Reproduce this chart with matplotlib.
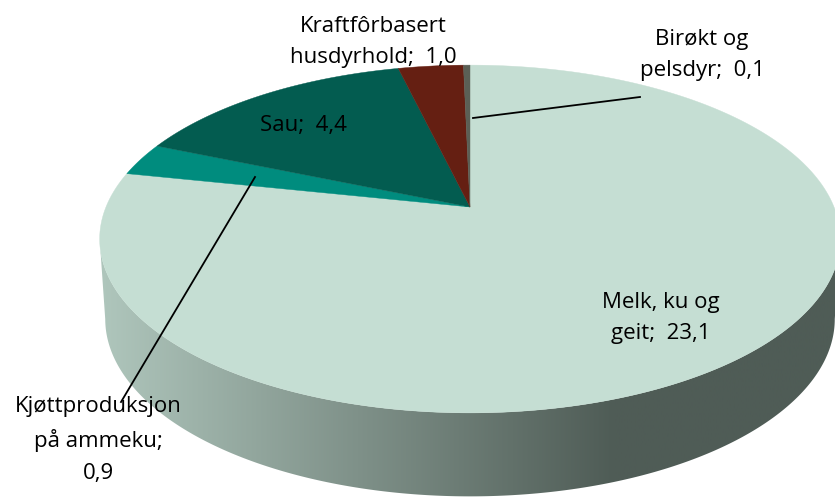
import numpy as np
import matplotlib
matplotlib.use("Agg")
import matplotlib.pyplot as plt
from matplotlib.patches import Polygon
from matplotlib.colors import LinearSegmentedColormap

categories = ["Melk, ku og\ngeit;  23,1", "Kjøttproduksjon\npå ammeku;\n0,9", "Sau;  4,4",
              "Kraftfôrbasert\nhusdyrhold;  1,0", "Birøkt og\npelsdyr;  0,1"]
values = [23.1, 0.9, 4.4, 1.0, 0.1]
colors = ["#C5DED3", "#008C7E", "#035C50", "#651F12", "#5B5F55"]
label_pos = [(661, 318), (98, 440), (303, 125), (373, 42), (702, 55)]

plt.rcParams["font.family"] = ["Open Sans", "DejaVu Sans"]
fig = plt.figure(figsize=(8.35, 4.98), dpi=100)
ax = fig.add_axes([0, 0, 1, 1])
ax.set_xlim(0, 835)
ax.set_ylim(498, 0)
ax.axis("off")

CX, CY, A, B, K = 470, 207, 364, 168, 0.184
DEPTH, MID_Y, SHRINK_X, STRETCH_Y = 80, 239, 0.985, 1.02

def project(theta):
    u, v = np.sin(theta), np.cos(theta)
    d = 1 + K * v
    return CX + A * u / d, CY - B * v / d

# side wall
full = np.linspace(0, 2 * np.pi, 720)
xt, yt = project(full)
i0, i1 = np.argmax(xt), np.argmin(xt)
front = np.linspace(full[i0], full[i1], 300)
xf, yf = project(front)
xb = CX + (xf - CX) * SHRINK_X
yb = MID_Y + DEPTH + (yf - MID_Y) * STRETCH_Y
side = np.r_[np.c_[xf, yf], np.c_[xb[::-1], yb[::-1]]]
patch = Polygon(side, closed=True, fc="none", ec="none", transform=ax.transData)
ax.add_patch(patch)
cmap = LinearSegmentedColormap.from_list("side", [(0, "#AFC6BC"), (0.70, "#4F5C56"), (1, "#4F5C56")])
im = ax.imshow(np.linspace(0, 1, 256).reshape(1, -1), extent=(100, 835, 498, 0), cmap=cmap, aspect="auto", zorder=1)
im.set_clip_path(patch)
ax.set_xlim(0, 835)
ax.set_ylim(498, 0)

# top slices
fr = np.cumsum([0] + values) / sum(values) * 2 * np.pi
for a, b, c in zip(fr[:-1], fr[1:], colors):
    th = np.linspace(a, b, max(3, int((b - a) * 120)))
    x, y = project(th)
    ax.add_patch(Polygon(np.r_[[[CX, CY]], np.c_[x, y]], closed=True, fc=c, ec=c, lw=0.3, zorder=2))

# leader lines
ax.plot([255, 121], [177, 402], color="black", lw=1.3, zorder=3)
ax.plot([473, 640], [118, 97], color="black", lw=1.3, zorder=3)

for lab, (x, y) in zip(categories, label_pos):
    ax.text(x, y, lab, ha="center", va="center", fontsize=16, linespacing=1.65, zorder=4, color="black")

fig.savefig("out.png", dpi=100)
